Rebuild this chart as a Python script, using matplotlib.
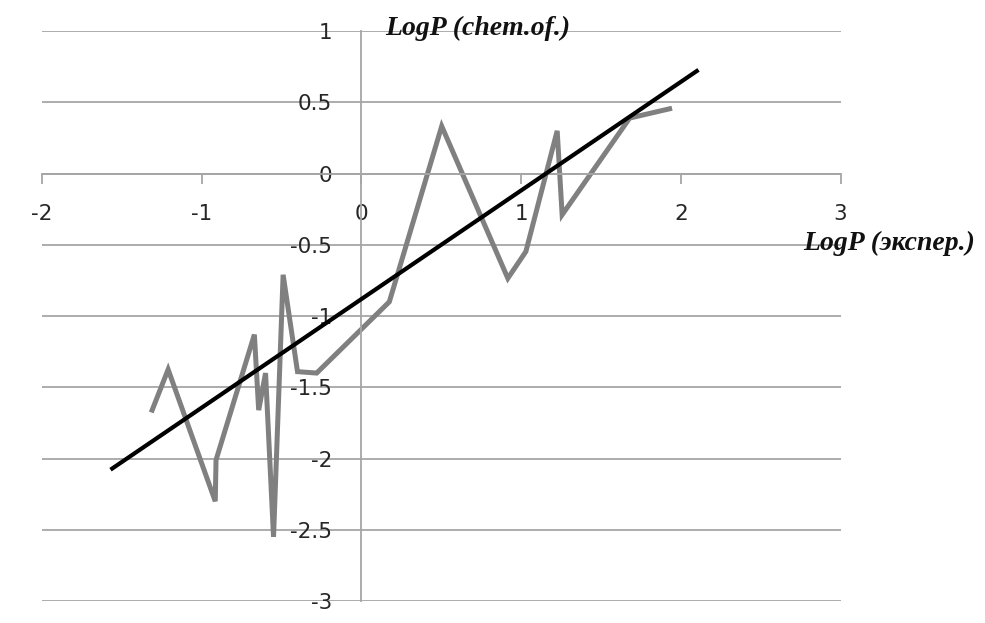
import matplotlib
matplotlib.use("Agg")
import matplotlib.pyplot as plt

log_exp = [-1.31, -1.21, -0.915, -0.91, -0.67, -0.643, -0.60, -0.55, -0.49,
           -0.40, -0.28, 0.175, 0.503, 0.917, 1.03, 1.226, 1.257, 1.68, 1.93]
log_calc = [-1.66, -1.375, -2.30, -2.01, -1.13, -1.66, -1.40, -2.55, -0.71,
            -1.39, -1.40, -0.90, 0.333, -0.735, -0.547, 0.30, -0.289, 0.39, 0.455]

# linear trend line end points
trend_x = [-1.56, 2.10]
trend_y = [-2.07, 0.72]

x_ticks = [-2, -1, 0, 1, 2, 3]
y_ticks = [1, 0.5, 0, -0.5, -1, -1.5, -2, -2.5, -3]

fig = plt.figure(figsize=(9.85, 6.23), dpi=100)
ax = fig.add_axes([0.0426, 0.0353, 0.8107, 0.9147])

grid_col = "#a6a6a6"
for yv in y_ticks:
    ax.axhline(yv, color=grid_col, lw=1.3, zorder=0)

ax.plot(log_exp, log_calc, color="#808080", lw=3.6, solid_joinstyle="miter", zorder=2)
ax.plot(trend_x, trend_y, color="black", lw=3.0, zorder=3)

ax.set_xlim(-2, 3)
ax.set_ylim(-3, 1)

ax.spines["left"].set_position(("data", 0))
ax.spines["bottom"].set_position(("data", 0))
ax.spines["right"].set_visible(False)
ax.spines["top"].set_visible(False)
for s in ("left", "bottom"):
    ax.spines[s].set_color(grid_col)
    ax.spines[s].set_linewidth(1.3)

ax.set_xticks(x_ticks)
ax.set_xticklabels([str(v) for v in x_ticks])
ax.set_yticks(y_ticks)
ax.set_yticklabels([f"{v:g}" for v in y_ticks])
ax.tick_params(axis="both", color=grid_col, width=1.3, direction="out",
               labelsize=15.5, labelcolor="#262626")
ax.tick_params(axis="x", length=7, pad=15)
ax.tick_params(axis="y", length=0, pad=21)

label_font = dict(family="Liberation Serif", style="italic", weight="bold",
                  fontsize=20, color="#111111")
fig.text(0.391, 0.955, "LogP (chem.of.)", ha="left", va="center", **label_font)
fig.text(0.815, 0.609, "LogP (экспер.)", ha="left", va="center", **label_font)

fig.savefig("out.png", dpi=100)
